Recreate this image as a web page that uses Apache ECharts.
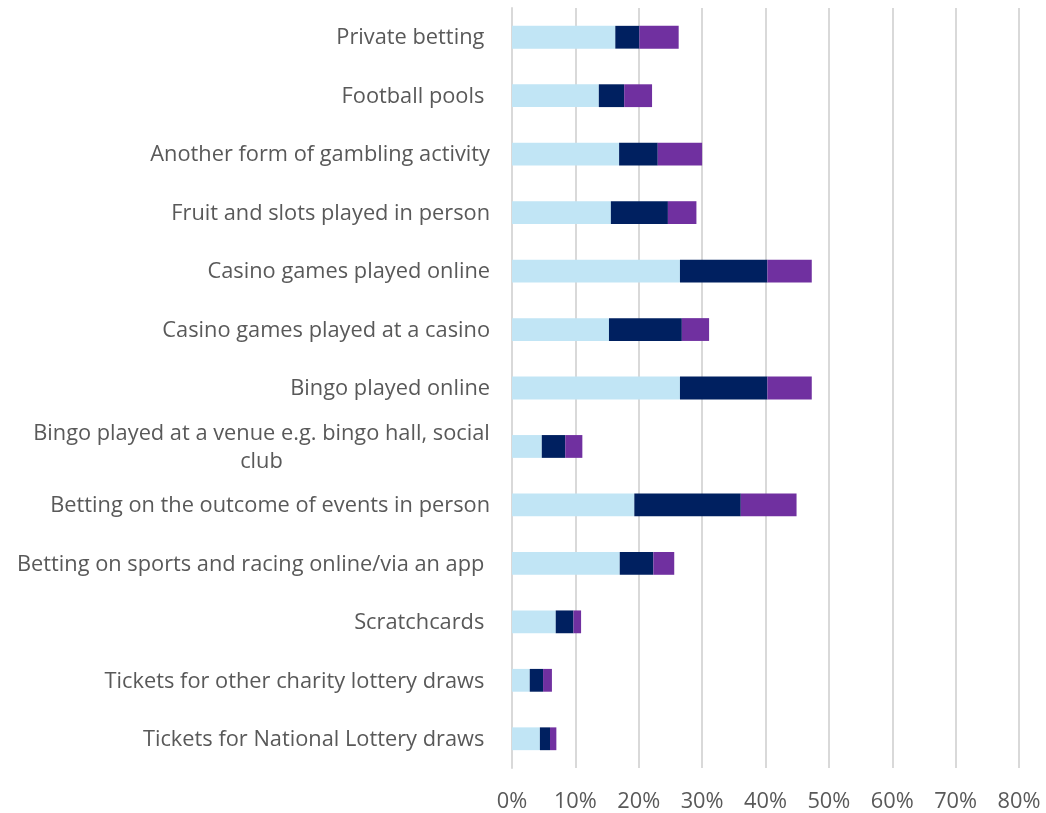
<!DOCTYPE html>
<html>
<head>
<meta charset="utf-8">
<script src="https://cdn.jsdelivr.net/npm/echarts@6/dist/echarts.min.js"></script>
<style>
  html, body { margin: 0; padding: 0; background: #ffffff; }
  #chart { width: 1046px; height: 813px; }
</style>
</head>
<body>
<div id="chart"></div>
<script>
// Gambling activities, listed bottom to top as drawn on the category axis
const categories = [
  'Tickets for National Lottery draws ',
  'Tickets for other charity lottery draws ',
  'Scratchcards ',
  'Betting on sports and racing online/via an app ',
  'Betting on the outcome of events in person',
  'Bingo played at a venue e.g. bingo hall, social club',
  'Bingo played online',
  'Casino games played at a casino',
  'Casino games played online',
  'Fruit and slots played in person',
  'Another form of gambling activity',
  'Football pools ',
  'Private betting '
];

// Stacked segment values (percent)
const segmentA = [4.4, 2.8, 6.9, 17.0, 19.3, 4.7, 26.5, 15.3, 26.5, 15.6, 16.9, 13.7, 16.3];
const segmentB = [1.6, 2.1, 2.8, 5.3, 16.8, 3.7, 13.8, 11.5, 13.8, 9.0, 6.1, 4.0, 3.8];
const segmentC = [1.0, 1.4, 1.2, 3.3, 8.8, 2.7, 7.0, 4.3, 7.0, 4.5, 7.0, 4.4, 6.2];

const xTicks = [0, 10, 20, 30, 40, 50, 60, 70, 80];

const chart = echarts.init(document.getElementById('chart'), null, { renderer: 'canvas' });

const fontFamily = '"Open Sans", "Noto Sans", sans-serif';
const fontSize = 21.8;
const wrapped = 'Bingo played at a venue e.g. bingo hall, social club';
const wrappedLines = ['Bingo played at a venue e.g. bingo hall, social', 'club'];

// Width of the longer line, so both lines centre within the same block
const measureCtx = document.createElement('canvas').getContext('2d');
measureCtx.font = fontSize + 'px ' + fontFamily;
const wrappedWidth = Math.ceil(Math.max.apply(null, wrappedLines.map(l => measureCtx.measureText(l).width)));

function barSeries(name, data, color) {
  return {
    name: name,
    type: 'bar',
    stack: 'total',
    barWidth: '39%',
    itemStyle: { color: color },
    emphasis: { disabled: true },
    data: data
  };
}

chart.setOption({
  animation: false,
  grid: { left: 512, right: 27, top: 8, bottom: 42, containLabel: false },
  xAxis: {
    type: 'value',
    min: xTicks[0],
    max: xTicks[xTicks.length - 1],
    interval: 10,
    axisLine: { show: false },
    axisTick: { show: false },
    splitLine: { show: true, lineStyle: { color: '#d9d9d9', width: 2 } },
    axisLabel: {
      margin: 23,
      color: '#595959',
      fontSize: fontSize,
      fontFamily: fontFamily,
      formatter: v => v + '%'
    }
  },
  yAxis: {
    type: 'category',
    data: categories,
    axisLine: { show: true, lineStyle: { color: '#d9d9d9', width: 2 } },
    axisTick: { show: false },
    axisLabel: {
      margin: 22,
      color: '#595959',
      fontSize: fontSize,
      fontFamily: fontFamily,
      padding: [2, 0, 0, 0],
      formatter: function (v) {
        if (v === wrapped) {
          return wrappedLines.map(l => '{c|' + l + '}').join('\n');
        }
        return v;
      },
      rich: {
        c: {
          width: wrappedWidth,
          align: 'center',
          color: '#595959',
          fontSize: fontSize,
          fontFamily: fontFamily,
          lineHeight: 28
        }
      }
    }
  },
  series: [
    barSeries('A', segmentA, '#c1e5f5'),
    barSeries('B', segmentB, '#002060'),
    barSeries('C', segmentC, '#7030a0')
  ]
});
</script>
</body>
</html>
